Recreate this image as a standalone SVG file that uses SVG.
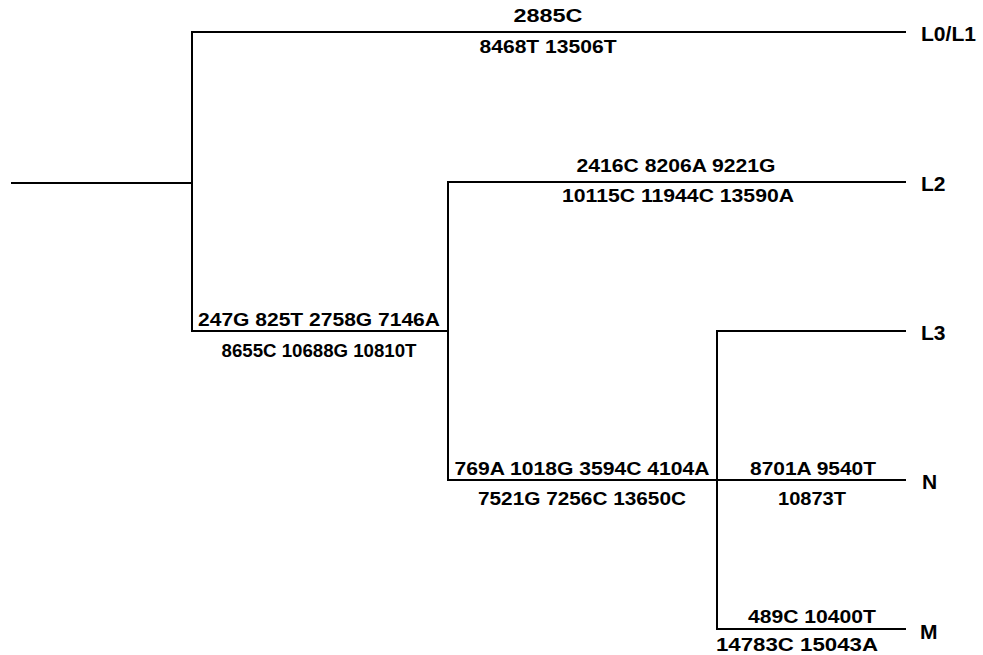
<svg xmlns="http://www.w3.org/2000/svg" width="983" height="655" viewBox="0 0 983 655">
<style>
.br{stroke:#000;stroke-width:2;fill:none;stroke-linecap:square}
.m{font-family:"Liberation Sans",Arial,sans-serif;font-size:18.5px;font-weight:bold;text-anchor:middle;fill:#000}
.lb{font-family:"Liberation Sans",Arial,sans-serif;font-size:21px;font-weight:bold;fill:#000}
</style>
<rect width="983" height="655" fill="#fff"/>
<g id="connectors">
<path class="br" d="M12,183 H192"/>
<path class="br" d="M192,32 V331"/>
<path class="br" d="M192,32 H905"/>
<path class="br" d="M192,331 H448"/>
<path class="br" d="M448,182 V480"/>
<path class="br" d="M448,182 H905"/>
<path class="br" d="M448,480 H905"/>
<path class="br" d="M717,331 V629"/>
<path class="br" d="M717,331 H905"/>
<path class="br" d="M717,629 H905"/>
</g>
<g id="mutations">
<text class="m" x="548" y="22" textLength="69" lengthAdjust="spacingAndGlyphs">2885C</text>
<text class="m" x="548" y="53" textLength="137" lengthAdjust="spacingAndGlyphs">8468T 13506T</text>
<text class="m" x="676" y="172" textLength="199" lengthAdjust="spacingAndGlyphs">2416C 8206A 9221G</text>
<text class="m" x="678" y="202" textLength="232" lengthAdjust="spacingAndGlyphs">10115C 11944C 13590A</text>
<text class="m" x="319" y="326" textLength="242" lengthAdjust="spacingAndGlyphs">247G 825T 2758G 7146A</text>
<text class="m" x="319" y="357" textLength="195" lengthAdjust="spacingAndGlyphs">8655C 10688G 10810T</text>
<text class="m" x="582" y="475" textLength="255" lengthAdjust="spacingAndGlyphs">769A 1018G 3594C 4104A</text>
<text class="m" x="582" y="505" textLength="208" lengthAdjust="spacingAndGlyphs">7521G 7256C 13650C</text>
<text class="m" x="813" y="475" textLength="126" lengthAdjust="spacingAndGlyphs">8701A 9540T</text>
<text class="m" x="812" y="505" textLength="68" lengthAdjust="spacingAndGlyphs">10873T</text>
<text class="m" x="812" y="623" textLength="128" lengthAdjust="spacingAndGlyphs">489C 10400T</text>
<text class="m" x="797" y="651" textLength="162" lengthAdjust="spacingAndGlyphs">14783C 15043A</text>
</g>
<g id="L0L1"><text class="lb" x="921" y="41" textLength="55" lengthAdjust="spacingAndGlyphs">L0/L1</text></g>
<g id="L2"><text class="lb" x="921" y="191">L2</text></g>
<g id="L3"><text class="lb" x="921" y="340">L3</text></g>
<g id="N"><text class="lb" x="922" y="489">N</text></g>
<g id="M"><text class="lb" x="920" y="639">M</text></g>
</svg>
